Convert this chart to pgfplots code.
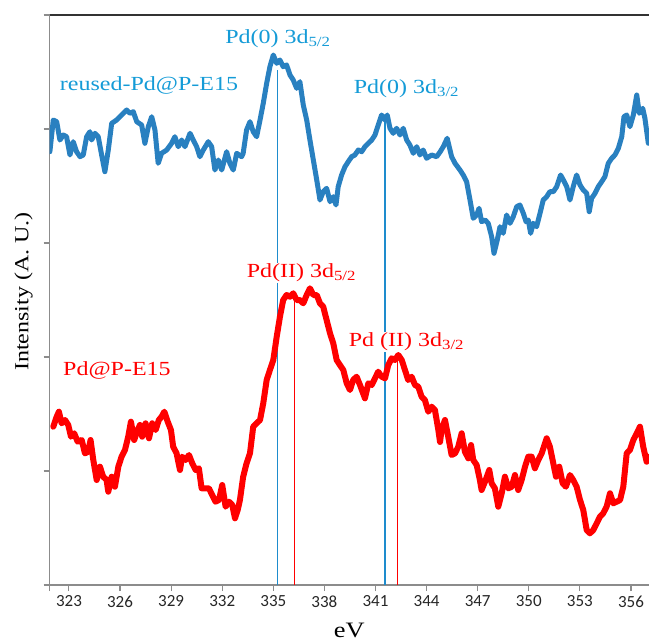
\documentclass[border=0pt]{standalone}
\usepackage{fontspec}
\setmainfont{Liberation Serif}[FakeStretch=1.2]
\newfontfamily\tickfont{Carlito}
\usepackage{pgfplots}
\pgfplotsset{compat=1.18}
\usepackage{pgfplotstable}

\definecolor{bluecurve}{RGB}{41,128,192}
\definecolor{bluetext}{RGB}{20,155,215}
\definecolor{blueline}{RGB}{30,140,205}
\definecolor{redc}{RGB}{255,0,0}
\definecolor{axisgray}{RGB}{140,140,140}
\definecolor{topline}{RGB}{50,50,50}

\pgfplotstableread{
x y
321.88 433.3
322.08 465
322.28 463.3
322.47 445
322.67 450
322.86 448.3
323.06 430
323.25 443.3
323.45 433.3
323.65 428.3
323.84 430
324.04 448.3
324.23 453.3
324.33 445
324.53 451.7
324.72 448.3
324.92 430
325.11 413.3
325.31 435
325.51 461.7
325.80 465
326.09 470
326.39 475
326.58 471.7
326.78 473.3
326.98 463.3
327.27 460
327.46 441.7
327.66 458.3
327.86 468.3
328.05 455
328.24 421.7
328.44 431.7
328.74 435
329.03 441.7
329.22 448.3
329.42 438.3
329.62 445
329.81 438.3
330.11 451.7
330.30 445
330.50 438.3
330.69 428.3
330.89 435
331.18 443.3
331.38 438.3
331.57 415
331.77 425
331.97 415
332.26 433.3
332.45 421.7
332.65 415
332.85 431.7
333.14 428.3
333.23 431.7
333.43 455
333.63 463.3
333.82 453.3
334.02 448.3
334.22 465
334.41 481.7
334.61 501.7
334.80 518.3
335.00 530
335.20 521.7
335.39 525
335.58 518.3
335.78 520
335.98 510
336.17 505
336.37 496.7
336.56 503.3
336.76 480
336.96 465
337.15 445
337.35 425
337.55 405
337.74 385
337.93 393.3
338.13 396.7
338.33 383.3
338.52 388.3
338.68 380
338.81 398.3
339.01 410
339.21 418.3
339.40 423.3
339.60 428.3
339.79 430
339.99 435
340.19 433.3
340.38 438.3
340.58 441.7
340.78 445
340.97 450
341.16 460
341.36 470
341.56 465
341.69 470
341.85 456.7
342.04 451.7
342.24 456.7
342.44 450
342.63 456.7
342.83 445
343.02 440
343.22 431.7
343.42 438.3
343.61 430
343.80 435
344.00 426.7
344.30 430
344.59 428.3
344.79 433
344.98 438.3
345.21 446.7
345.47 428.3
345.67 421.7
345.96 415
346.15 410
346.35 403.3
346.55 385
346.74 366.7
346.94 370
347.08 376.7
347.23 363.3
347.43 365
347.62 361.7
347.82 348.3
347.96 331.7
348.15 345
348.31 358.3
348.50 351.7
348.70 370
348.90 361.7
349.09 368.3
349.29 378.3
349.48 380
349.68 371.7
349.84 363.3
349.97 365
350.11 351.7
350.26 361.7
350.46 358.3
350.66 371.7
350.85 385
351.05 388.3
351.24 393.3
351.44 393.3
351.64 398.3
351.87 410
352.03 405
352.23 398.3
352.42 385
352.61 398.3
352.81 410
353.01 400
353.20 395
353.40 391.7
353.55 373.3
353.69 386.7
353.89 391.7
354.08 398.3
354.28 403.3
354.47 408.3
354.67 421.7
354.87 426.7
355.06 430
355.26 436.7
355.46 448.3
355.59 468.3
355.75 470
355.94 458.3
356.14 470
356.34 490
356.49 471.7
356.69 476.7
356.82 466.7
357.02 441.7
}\reused

\pgfplotstableread{
x y
322.08 158.3
322.28 168.3
322.41 173.3
322.57 161.7
322.77 165
322.96 160
323.12 148.3
323.31 151.7
323.51 143.3
323.75 145
323.94 131.7
324.13 133.3
324.27 145
324.43 125
324.63 105
324.82 118.3
325.01 108.3
325.21 105
325.31 93.3
325.51 108.3
325.70 98.3
325.90 118.3
326.09 128.3
326.29 135
326.48 148.3
326.64 163.3
326.83 145
327.03 155
327.17 160
327.30 148.3
327.50 161.7
327.70 146.7
327.89 161.7
328.09 155
328.28 165
328.44 168.3
328.60 173.3
328.80 163.3
328.99 155
329.12 138.3
329.32 131.7
329.52 115
329.65 128.3
329.85 125
330.05 130
330.24 121.7
330.44 115
330.63 116.7
330.79 96.7
330.99 96.7
331.22 96.7
331.41 90
331.61 83.3
331.81 85
332.00 100
332.20 78.3
332.40 83.3
332.59 80
332.75 66.7
332.91 75
333.04 85
333.23 108.3
333.43 121.7
333.63 131.7
333.82 158.3
334.02 161.7
334.22 165
334.41 181.7
334.61 205
334.80 215
335.00 225
335.20 248.3
335.39 268.3
335.58 285
335.78 290
335.98 288.3
336.17 291.7
336.37 285
336.56 285
336.76 281.7
336.96 290
337.15 296.7
337.35 290
337.55 290
337.74 281.7
337.93 278.3
338.13 265
338.33 251.7
338.52 241.7
338.72 225
338.91 220
339.11 215
339.31 201.7
339.50 195
339.69 205
339.89 208.3
340.09 200
340.38 186.7
340.58 201.7
340.78 200
340.97 206.7
341.16 213.3
341.36 208.3
341.56 206.7
341.75 220
341.95 226.7
342.14 225
342.34 230
342.54 225
342.73 215
342.92 205
343.12 208.3
343.32 200
343.51 198.3
343.71 188.3
343.90 185
344.10 173.3
344.30 178.3
344.49 175
344.69 155
344.79 143
344.88 155
345.08 165
345.27 148.3
345.47 130
345.67 131.7
345.86 138.3
346.06 151.7
346.25 133.3
346.45 126.7
346.61 140
346.74 125
346.94 120
347.13 105
347.23 95
347.43 103.3
347.68 115
347.82 101.7
348.01 96.7
348.21 78.3
348.41 91.7
348.60 108.3
348.80 96.7
349.00 98.3
349.19 110
349.38 95
349.58 105
349.78 118.3
349.97 128.3
350.17 128.3
350.36 116.7
350.56 125
350.76 131.7
350.89 138.3
351.05 146.7
351.24 138.3
351.40 125
351.60 108.3
351.79 118.3
351.99 101.7
352.18 98.3
352.42 110
352.61 105
352.81 98.3
353.01 85
353.20 75
353.40 55
353.59 51.7
353.79 55
353.99 61.7
354.18 68.3
354.37 71.7
354.57 78.3
354.77 91.7
354.96 81.7
355.16 83.3
355.36 85
355.55 98.3
355.75 131.7
355.94 135
356.14 145
356.34 151.7
356.53 158.3
356.72 138.3
356.92 123.3
357.06 128.3
}\fresh

\begin{document}
\begin{tikzpicture}
\begin{axis}[
  scale only axis, width=599.3pt, height=570pt,
  xmin=321.87, xmax=357.06, ymin=0, ymax=570,
  axis x line*=bottom, axis y line*=left,
  axis line style={draw=axisgray, line width=1.3pt, -},
  xtick={323,326,...,356},
  extra x ticks={321.87}, extra x tick labels={},
  ytick={0,114,228,342,456,570}, yticklabels={},
  tick align=outside, major tick length=6pt,
  tick style={draw=axisgray, line width=1.1pt},
  /pgf/number format/assume math mode=true,
  /pgf/number format/1000 sep={},
  xticklabel style={font=\tickfont\fontsize{17}{17}\selectfont, text=black!85, yshift=-1pt},
  xlabel={eV},
  every axis x label/.style={at={(rel axis cs:0.5,-0.0789)}, anchor=center, font=\fontsize{22}{24}\selectfont},
  ylabel={Intensity (A. U.)},
  every axis y label/.style={at={(rel axis cs:-0.0434,0.515)}, rotate=90, anchor=center, font=\fontsize{20}{24}\selectfont},
  label style={text=black},
]
% marker lines
\addplot[blueline, line width=1.5pt] coordinates {(335.24,0) (335.24,515)};
\addplot[blueline, line width=1.5pt] coordinates {(341.56,0) (341.56,465)};
\addplot[redc, line width=1.5pt] coordinates {(336.24,0) (336.24,285)};
\addplot[redc, line width=1.5pt] coordinates {(342.29,0) (342.29,228)};
% curves
\addplot[bluecurve, line width=5pt, line join=round, line cap=round] table[x=x,y=y] {\reused};
\addplot[redc, line width=6pt, line join=round, line cap=round] table[x=x,y=y] {\fresh};
% labels
\node[text=bluetext, font=\fontsize{20}{24}\selectfont, inner sep=1pt] at (axis cs:327.70,500) {reused-Pd@P-E15};
\node[text=bluetext, fill=white, font=\fontsize{20}{24}\selectfont, inner sep=1pt] at (axis cs:335.27,546) {Pd(0) 3d\textsubscript{5/2}};
\node[text=bluetext, fill=white, font=\fontsize{20}{24}\selectfont, inner sep=1pt] at (axis cs:342.82,496) {Pd(0) 3d\textsubscript{3/2}};
\node[text=redc, fill=white, font=\fontsize{20}{24}\selectfont, inner sep=1pt] at (axis cs:336.65,312) {Pd(II) 3d\textsubscript{5/2}};
\node[text=redc, fill=white, font=\fontsize{20}{24}\selectfont, inner sep=1pt] at (axis cs:342.82,243) {Pd (II) 3d\textsubscript{3/2}};
\node[text=redc, font=\fontsize{20}{24}\selectfont, inner sep=1pt] at (axis cs:325.82,215) {Pd@P-E15};
\coordinate (bl) at (rel axis cs:0,0);
\coordinate (tr) at (rel axis cs:1,1);
\end{axis}
\draw[topline, line width=1.5pt] (bl|-tr) -- (tr);
\pgfresetboundingbox
\path[use as bounding box] ([xshift=-49.7pt,yshift=-58pt]bl) rectangle ([yshift=15pt]tr);
\end{tikzpicture}
\end{document}
